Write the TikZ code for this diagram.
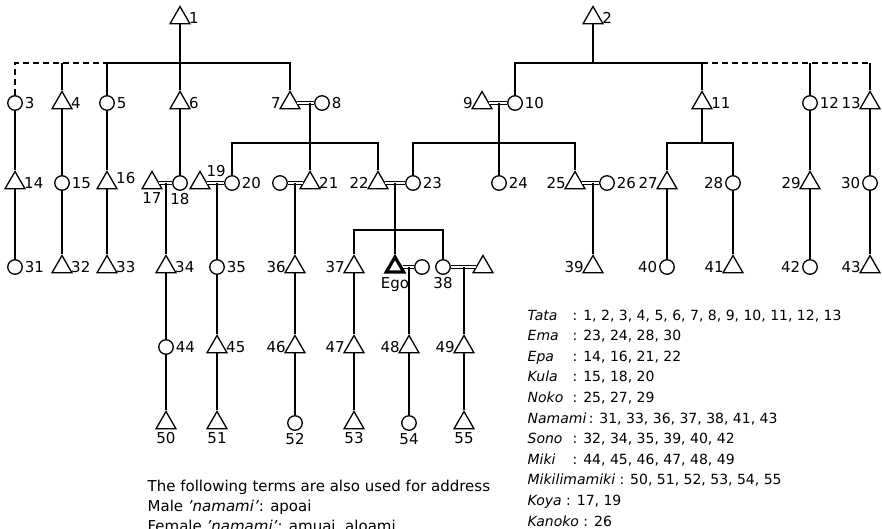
\documentclass[tikz,border=0pt]{standalone}
\usepackage{fontspec}
\setmainfont{DejaVu Sans}
\usetikzlibrary{shapes.geometric, calc}
\tikzset{
  every picture/.style={x=1pt, y=-1pt, line width=1.3pt},
  male/.style={draw, regular polygon, regular polygon sides=3, minimum size=23pt, inner sep=0pt},
  female/.style={draw, circle, minimum size=14.5pt, inner sep=0pt},
  ego/.style={male, line width=3.2pt, minimum size=20pt},
  lbl/.style={font=\fontsize{15}{15}\selectfont, inner sep=1.2pt},
  lblb/.style={lbl, label distance=1pt},
  marry/.style={double, double distance=1.6pt, line width=0.8pt},
  dashline/.style={dash pattern=on 6pt off 4pt},
  note/.style={font=\fontsize{14}{20.6}\selectfont, align=left, anchor=north west, inner sep=0pt},
}
\begin{document}
\begin{tikzpicture}
  \useasboundingbox (0,0) rectangle (882,529);
  \clip (0,0) rectangle (882,529);
  % founders
  \node[male, label={[lbl]right:1}] (n1) at (180,18) {};
  \node[male, label={[lbl]right:2}] (n2) at (593,18) {};
  % row 1
  \node[female, label={[lbl]right:3}] (n3) at (15,103) {};
  \node[male, label={[lbl]right:4}] (n4) at (62,103) {};
  \node[female, label={[lbl]right:5}] (n5) at (107,103) {};
  \node[male, label={[lbl]right:6}] (n6) at (180,103) {};
  \node[male, label={[lbl]left:7}] (n7) at (290,103) {};
  \node[female, label={[lbl]right:8}] (n8) at (322,103) {};
  \node[male, label={[lbl]left:9}] (n9) at (482,103) {};
  \node[female, label={[lbl]right:10}] (n10) at (515,103) {};
  \node[male, label={[lbl]right:11}] (n11) at (702,103) {};
  \node[female, label={[lbl]right:12}] (n12) at (810,103) {};
  \node[male, label={[lbl]left:13}] (n13) at (870,103) {};
  \coordinate (m78) at (310,103);
  \coordinate (m910) at (499,103);
  % row 2
  \node[male, label={[lbl]right:14}] (n14) at (15,183) {};
  \node[female, label={[lbl]right:15}] (n15) at (62,183) {};
  \node[male, label={[lbl, yshift=5pt]right:16}] (n16) at (107,183) {};
  \node[male, label={[lblb]below:17}] (n17) at (152,183) {};
  \node[female, label={[lblb]below:18}] (n18) at (180,183) {};
  \node[male, label={[lbl]above right:19}] (n19) at (200,183) {};
  \node[female, label={[lbl]right:20}] (n20) at (232,183) {};
  \node[female] (w21) at (280,183) {};
  \node[male, label={[lbl]right:21}] (n21) at (310,183) {};
  \node[male, label={[lbl]left:22}] (n22) at (378,183) {};
  \node[female, label={[lbl]right:23}] (n23) at (413,183) {};
  \node[female, label={[lbl]right:24}] (n24) at (499,183) {};
  \node[male, label={[lbl]left:25}] (n25) at (575,183) {};
  \node[female, label={[lbl]right:26}] (n26) at (607,183) {};
  \node[male, label={[lbl]left:27}] (n27) at (667,183) {};
  \node[female, label={[lbl]left:28}] (n28) at (733,183) {};
  \node[male, label={[lbl]left:29}] (n29) at (810,183) {};
  \node[female, label={[lbl]left:30}] (n30) at (870,183) {};
  \coordinate (m1718) at (166,183);
  \coordinate (m1920) at (217,183);
  \coordinate (m21) at (295,183);
  \coordinate (m2223) at (395,183);
  \coordinate (m2526) at (593,183);
  % row 3
  \node[female, label={[lbl]right:31}] (n31) at (15,267) {};
  \node[male, label={[lbl]right:32}] (n32) at (62,267) {};
  \node[male, label={[lbl]right:33}] (n33) at (107,267) {};
  \node[male, label={[lbl]right:34}] (n34) at (166,267) {};
  \node[female, label={[lbl]right:35}] (n35) at (217,267) {};
  \node[male, label={[lbl]left:36}] (n36) at (295,267) {};
  \node[male, label={[lbl]left:37}] (n37) at (354,267) {};
  \node[ego, label={[lblb, label distance=2pt]below:Ego}] (ego) at (395,267) {};
  \node[female] (wego) at (422,267) {};
  \node[female, label={[lblb]below:38}] (n38) at (443,267) {};
  \node[male] (h38) at (483,267) {};
  \node[male, label={[lbl]left:39}] (n39) at (593,267) {};
  \node[female, label={[lbl]left:40}] (n40) at (667,267) {};
  \node[male, label={[lbl]left:41}] (n41) at (733,267) {};
  \node[female, label={[lbl]left:42}] (n42) at (810,267) {};
  \node[male, label={[lbl]left:43}] (n43) at (870,267) {};
  \coordinate (mego) at (409,267);
  \coordinate (m38) at (464,267);
  % row 4
  \node[female, label={[lbl]right:44}] (n44) at (166,347) {};
  \node[male, label={[lbl]right:45}] (n45) at (217,347) {};
  \node[male, label={[lbl]left:46}] (n46) at (295,347) {};
  \node[male, label={[lbl]left:47}] (n47) at (354,347) {};
  \node[male, label={[lbl]left:48}] (n48) at (409,347) {};
  \node[male, label={[lbl]left:49}] (n49) at (464,347) {};
  % row 5
  \node[male, label={[lblb]below:50}] (n50) at (166,423) {};
  \node[male, label={[lblb]below:51}] (n51) at (217,423) {};
  \node[female, label={[lblb]below:52}] (n52) at (295,423) {};
  \node[male, label={[lblb]below:53}] (n53) at (354,423) {};
  \node[female, label={[lblb]below:54}] (n54) at (409,423) {};
  \node[male, label={[lblb]below:55}] (n55) at (464,423) {};
  % sibling lines
  \coordinate (top1) at (180,63);
  \coordinate (top2) at (593,63);
  \coordinate (mid) at (0,143);
  \coordinate (low) at (0,230);
  \draw[dashline] (n3.north) |- (n5.north |- top1);
  \draw (n5.north) |- (n7.north |- top1) -- (n7.north);
  \draw (n4.north) -- (n4.north |- top1); \draw (n1.south) -- (n6.north);
  \draw (n10.north) |- (n11.north |- top2) -- (n11.north);
  \draw[dashline] (n11.north |- top2) -- (n13.north |- top2);
  \draw (n12.north) -- (n12.north |- top2); \draw (n13.north) -- (n13.north |- top2);
  \draw (n2.south) -- (top2);
  \draw (n20.north) |- (mid -| n22.north) -- (n22.north);
  \draw (n23.north) |- (mid -| n25.north) -- (n25.north);
  \draw (n11.south) -- (mid -| n11.south);
  \draw (n27.north) |- (mid -| n28.north) -- (n28.north);
  \draw (n37.north) |- (low -| n38.north) -- (n38.north);
  % marriages
  \draw[marry] (n7.east) -- (n8.west); \draw[marry] (n9.east) -- (n10.west);
  \draw[marry] (n17.east) -- (n18.west); \draw[marry] (n19.east) -- (n20.west);
  \draw[marry] (w21.east) -- (n21.west); \draw[marry] (n22.east) -- (n23.west);
  \draw[marry] (n25.east) -- (n26.west); \draw[marry] (ego.east) -- (wego.west);
  \draw[marry] (n38.east) -- (h38.west);
  % descent
  \draw (m78) -- (n21.north); \draw (m910) -- (n24.north);
  \draw (m1718) -- (n34.north); \draw (m1920) -- (n35.north);
  \draw (m21) -- (n36.north); \draw (m2223) -- (ego.north);
  \draw (m2526) -- (n39.north);
  \draw (mego) -- (n48.north); \draw (m38) -- (n49.north);
  \draw (n3) -- (n14) -- (n31); \draw (n4) -- (n15) -- (n32); \draw (n5) -- (n16) -- (n33);
  \draw (n6) -- (n18);
  \draw (n12) -- (n29) -- (n42); \draw (n13) -- (n30) -- (n43);
  \draw (n27) -- (n40); \draw (n28) -- (n41);
  \draw (n34) -- (n44) -- (n50); \draw (n35) -- (n45) -- (n51);
  \draw (n36) -- (n46) -- (n52); \draw (n37) -- (n47) -- (n53);
  \draw (n48) -- (n54); \draw (n49) -- (n55);
  % notes
  \node[note, font=\fontsize{15}{20.3}\selectfont] (address) at (147,479) {The following terms are also used for address\\
    Male \textit{'namami'}: apoai\\
    Female \textit{'namami'}: amuai, aloami};
  \node[note] (terms) at (527,309) {%
    \makebox[45pt][l]{\textit{Tata}}: 1, 2, 3, 4, 5, 6, 7, 8, 9, 10, 11, 12, 13\\
    \makebox[45pt][l]{\textit{Ema}}: 23, 24, 28, 30\\
    \makebox[45pt][l]{\textit{Epa}}: 14, 16, 21, 22\\
    \makebox[45pt][l]{\textit{Kula}}: 15, 18, 20\\
    \makebox[45pt][l]{\textit{Noko}}: 25, 27, 29\\
    \textit{Namami}\,: 31, 33, 36, 37, 38, 41, 43\\
    \makebox[45pt][l]{\textit{Sono}}: 32, 34, 35, 39, 40, 42\\
    \makebox[45pt][l]{\textit{Miki}}: 44, 45, 46, 47, 48, 49\\
    \textit{Mikilimamiki} : 50, 51, 52, 53, 54, 55\\
    \textit{Koya} : 17, 19\\
    \textit{Kanoko} : 26};
\end{tikzpicture}
\end{document}
